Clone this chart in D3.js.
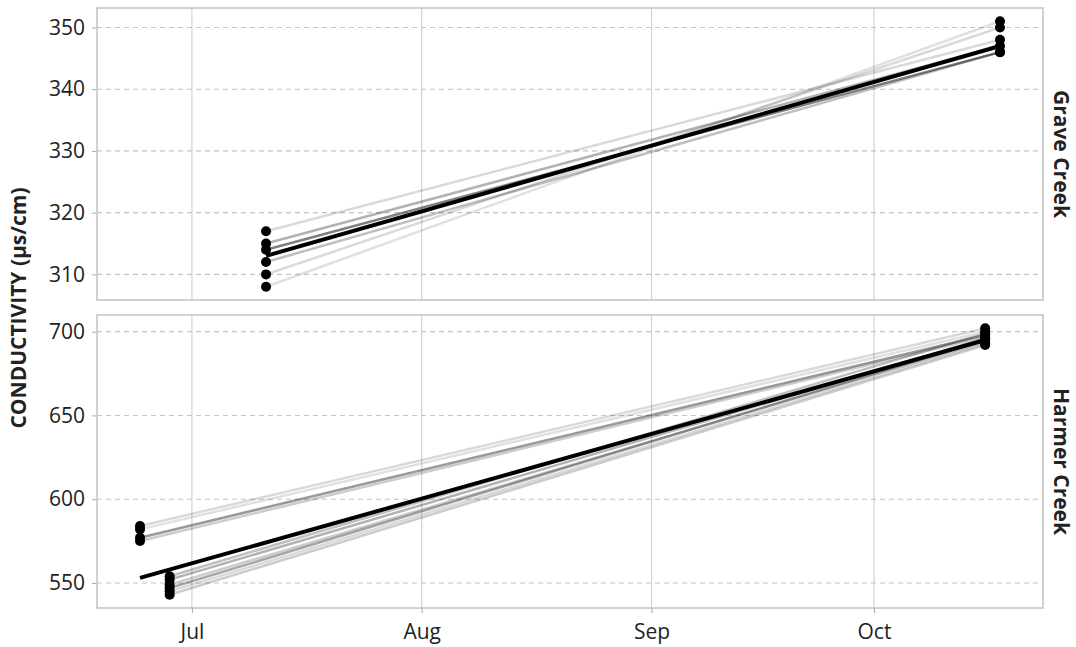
<!DOCTYPE html>
<html>
<head>
<meta charset="utf-8">
<script src="https://cdn.jsdelivr.net/npm/d3@7"></script>
<style>
  body { margin: 0; background: #fff; }
  svg text { font-family: "Open Sans", "DejaVu Sans", sans-serif; fill: #222; }
</style>
</head>
<body>
<svg id="chart" width="1076" height="647"></svg>
<script>
// ---- data ----
var sites = ["Grave Creek", "Harmer Creek"];

// Grave Creek: gray lines from Jul 11 to Oct 18
var graveStart = ["2019-07-11", "2019-07-11", "2019-07-11", "2019-07-11", "2019-07-11", "2019-07-11"];
var graveEnd   = ["2019-10-18", "2019-10-18", "2019-10-18", "2019-10-18", "2019-10-18", "2019-10-18"];
var graveFrom  = [317, 315, 314, 312, 310, 308];
var graveTo    = [348, 347, 346, 346, 350, 351];
var graveAlpha = [0.15, 0.3, 0.5, 0.25, 0.15, 0.12];
var graveMean  = { dates: ["2019-07-11", "2019-10-18"], values: [313, 347] };

// Harmer Creek: two sampling dates at the start
var harmerStart = ["2019-06-24", "2019-06-24", "2019-06-24", "2019-06-24",
                   "2019-06-28", "2019-06-28", "2019-06-28", "2019-06-28", "2019-06-28", "2019-06-28"];
var harmerEnd   = ["2019-10-16", "2019-10-16", "2019-10-16", "2019-10-16",
                   "2019-10-16", "2019-10-16", "2019-10-16", "2019-10-16", "2019-10-16", "2019-10-16"];
var harmerFrom  = [584, 582, 577, 575, 554, 552, 549, 547, 545, 543];
var harmerTo    = [702, 700, 698, 697, 699, 696, 694, 695, 693, 692];
var harmerAlpha = [0.15, 0.12, 0.4, 0.2, 0.25, 0.3, 0.2, 0.35, 0.15, 0.2];
var harmerMean  = { dates: ["2019-06-24", "2019-10-16"], values: [553, 695] };

var yTicks = [[310, 320, 330, 340, 350], [550, 600, 650, 700]];

// ---- layout ----
var svg = d3.select("#chart");
var parse = d3.timeParse("%Y-%m-%d");
var left = 97, right = 1043;
var panels = [{ top: 8, bottom: 300 }, { top: 315, bottom: 608 }];

function build(start, end, from, to, alpha) {
  return from.map(function (v, i) {
    return { d0: parse(start[i]), d1: parse(end[i]), v0: v, v1: to[i], a: alpha[i] };
  });
}
var series = [
  { lines: build(graveStart, graveEnd, graveFrom, graveTo, graveAlpha), mean: graveMean },
  { lines: build(harmerStart, harmerEnd, harmerFrom, harmerTo, harmerAlpha), mean: harmerMean }
];

// shared x (time), 5% expansion
var allDates = [];
series.forEach(function (s) {
  s.lines.forEach(function (l) { allDates.push(l.d0, l.d1); });
  s.mean.dates.forEach(function (d) { allDates.push(parse(d)); });
});
var xe = d3.extent(allDates), xpad = (xe[1] - xe[0]) * 0.05;
var x = d3.scaleTime()
  .domain([new Date(+xe[0] - xpad), new Date(+xe[1] + xpad)])
  .range([left, right]);
var months = x.ticks(d3.timeMonth.every(1));

series.forEach(function (s, k) {
  var p = panels[k];
  var vals = [];
  s.lines.forEach(function (l) { vals.push(l.v0, l.v1); });
  var ye = d3.extent(vals), ypad = (ye[1] - ye[0]) * 0.05;
  var y = d3.scaleLinear().domain([ye[0] - ypad, ye[1] + ypad]).range([p.bottom, p.top]);

  var g = svg.append("g");
  g.append("rect").attr("x", left).attr("y", p.top)
    .attr("width", right - left).attr("height", p.bottom - p.top)
    .attr("fill", "#fff");

  // grid
  g.selectAll(".vg").data(months).enter().append("line")
    .attr("x1", d => x(d)).attr("x2", d => x(d))
    .attr("y1", p.top).attr("y2", p.bottom)
    .attr("stroke", "#d3d3d3").attr("stroke-width", 1.2);
  g.selectAll(".hg").data(yTicks[k]).enter().append("line")
    .attr("x1", left).attr("x2", right)
    .attr("y1", d => y(d)).attr("y2", d => y(d))
    .attr("stroke", "#c4c4c4").attr("stroke-width", 1.1)
    .attr("stroke-dasharray", "5,4");

  // y axis
  var ya = g.append("g").attr("transform", "translate(" + left + ",0)")
    .call(d3.axisLeft(y).tickValues(yTicks[k]).tickSize(5).tickPadding(7));
  ya.select(".domain").remove();
  ya.selectAll(".tick line").attr("stroke", "#aaa");
  ya.selectAll(".tick text").style("font-size", "21px").attr("fill", "#222");

  // gray lines
  g.selectAll(".ln").data(s.lines).enter().append("line")
    .attr("x1", d => x(d.d0)).attr("y1", d => y(d.v0))
    .attr("x2", d => x(d.d1)).attr("y2", d => y(d.v1))
    .attr("stroke", "#000").attr("stroke-opacity", d => d.a)
    .attr("stroke-width", 2.5);

  // black line
  var line = d3.line().x(d => x(d[0])).y(d => y(d[1]));
  g.append("path")
    .datum(s.mean.dates.map((d, i) => [parse(d), s.mean.values[i]]))
    .attr("d", line).attr("fill", "none")
    .attr("stroke", "#000").attr("stroke-width", 4);

  // points
  var pts = [];
  s.lines.forEach(function (l) { pts.push([l.d0, l.v0], [l.d1, l.v1]); });
  g.selectAll(".pt").data(pts).enter().append("circle")
    .attr("cx", d => x(d[0])).attr("cy", d => y(d[1]))
    .attr("r", 5).attr("fill", "#000");

  // border
  g.append("rect").attr("x", left).attr("y", p.top)
    .attr("width", right - left).attr("height", p.bottom - p.top)
    .attr("fill", "none").attr("stroke", "#c2c2c2").attr("stroke-width", 1.5);

  // strip label
  g.append("text")
    .attr("transform", "translate(1054," + ((p.top + p.bottom) / 2) + ") rotate(90)")
    .attr("text-anchor", "middle")
    .style("font-size", "21px").style("font-weight", "bold")
    .text(sites[k]);
});

// x axis
var xa = svg.append("g").attr("transform", "translate(0," + panels[1].bottom + ")")
  .call(d3.axisBottom(x).tickValues(months).tickFormat(d3.timeFormat("%b")).tickSize(5).tickPadding(11));
xa.select(".domain").remove();
xa.selectAll(".tick line").attr("stroke", "#aaa");
xa.selectAll(".tick text").style("font-size", "21px").attr("fill", "#222");

// y title
svg.append("text")
  .attr("transform", "translate(26,308) rotate(-90)")
  .attr("text-anchor", "middle")
  .style("font-size", "21px").style("font-weight", "bold")
  .text("CONDUCTIVITY (µs/cm)");
</script>
</body>
</html>
